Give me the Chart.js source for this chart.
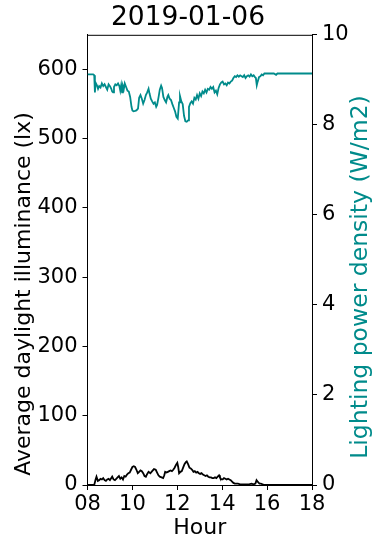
<!DOCTYPE html>
<html>
<head>
<meta charset="utf-8">
<script src="https://cdn.jsdelivr.net/npm/chart.js@4.4.0/dist/chart.umd.min.js"></script>
<style>
html,body{margin:0;padding:0;background:#fff;}
#wrap{width:376px;height:544px;}
</style>
</head>
<body>
<div id="wrap"><canvas id="c" width="376" height="544"></canvas></div>
<script>
const chartTitle = '2019-01-06';
const xTitle = 'Hour';
const leftTitle = 'Average daylight illuminance (lx)';
const rightTitle = 'Lighting power density (W/m2)';
const xTicks = [8, 10, 12, 14, 16, 18];
const leftTicks = [0, 100, 200, 300, 400, 500, 600];
const rightTicks = [0, 2, 4, 6, 8, 10];

const luxHours = [8.00,8.30,8.36,8.40,8.46,8.52,8.58,8.64,8.70,8.76,8.82,8.88,8.94,9.00,9.06,9.10,9.16,9.22,9.28,9.34,9.40,9.46,9.52,9.58,9.64,9.70,9.76,9.82,9.88,9.94,10.00,10.06,10.12,10.18,10.24,10.30,10.36,10.42,10.48,10.54,10.60,10.66,10.72,10.80,10.88,10.96,11.04,11.10,11.16,11.22,11.30,11.37,11.42,11.46,11.52,11.58,11.64,11.70,11.76,11.82,11.88,11.94,12.00,12.04,12.08,12.14,12.20,12.26,12.32,12.38,12.42,12.48,12.54,12.60,12.66,12.72,12.78,12.84,12.90,12.96,13.02,13.08,13.14,13.20,13.26,13.32,13.38,13.44,13.50,13.56,13.62,13.68,13.74,13.80,13.86,13.90,13.96,14.02,14.08,14.14,14.20,14.26,14.32,14.38,14.44,14.50,14.56,14.62,14.70,14.80,14.90,15.00,15.10,15.20,15.30,15.40,15.48,15.53,15.60,15.66,15.72,15.80,15.90,16.00,18.00];
const luxValues = [0,0,8,12,6,7,9,8,10,7,6,8,9,7,10,12,8,7,9,11,13,9,11,8,13,12,15,17,18,22,26,27,26,22,17,19,21,20,17,13,12,16,19,17,20,23,22,18,14,12,11,10,14,19,18,19,20,21,20,22,25,29,32,26,17,19,20,25,30,33,34,30,25,24,22,19,20,18,19,17,16,17,15,14,13,14,12,11,11,10,10,11,10,12,14,11,8,8,10,9,8,9,8,7,5,3,2,2,2,1,1,1,1,1,2,1,2,7,4,2,2,1,0,0,0];

const lpdHours = [8.00,8.25,8.30,8.33,8.36,8.42,8.47,8.52,8.58,8.64,8.70,8.76,8.82,8.88,8.94,9.00,9.06,9.10,9.14,9.18,9.24,9.30,9.36,9.42,9.46,9.50,9.54,9.58,9.62,9.66,9.72,9.78,9.84,9.90,9.96,10.00,10.05,10.12,10.18,10.25,10.30,10.36,10.42,10.48,10.54,10.60,10.66,10.72,10.76,10.82,10.88,10.94,11.00,11.06,11.10,11.16,11.22,11.28,11.32,11.38,11.44,11.50,11.56,11.60,11.66,11.72,11.78,11.84,11.90,11.96,12.02,12.08,12.12,12.18,12.24,12.30,12.36,12.42,12.48,12.52,12.58,12.64,12.70,12.76,12.82,12.88,12.94,13.00,13.06,13.12,13.18,13.24,13.30,13.36,13.42,13.48,13.54,13.60,13.66,13.72,13.78,13.84,13.90,13.96,14.02,14.08,14.14,14.20,14.26,14.32,14.38,14.44,14.50,14.56,14.62,14.68,14.74,14.80,14.86,14.92,14.98,15.04,15.10,15.16,15.22,15.28,15.34,15.40,15.46,15.50,15.54,15.58,15.64,15.70,15.76,15.82,15.88,16.00,16.30,16.40,16.46,18.00];
const lpdValues = [9.12,9.12,9.10,8.72,8.94,8.88,8.80,8.86,8.83,8.92,8.86,8.90,8.84,8.78,8.90,8.86,8.80,8.74,8.72,8.84,8.90,8.88,8.92,8.86,8.76,8.88,8.72,8.86,8.80,8.92,8.84,8.76,8.74,8.62,8.40,8.32,8.30,8.31,8.32,8.36,8.60,8.66,8.58,8.47,8.55,8.66,8.72,8.80,8.70,8.58,8.52,8.47,8.50,8.40,8.44,8.60,8.78,8.87,8.82,8.62,8.55,8.50,8.62,8.66,8.58,8.55,8.46,8.38,8.30,8.18,8.14,8.50,8.64,8.52,8.46,8.20,8.08,8.07,8.10,8.40,8.48,8.52,8.47,8.60,8.56,8.66,8.58,8.70,8.64,8.74,8.70,8.78,8.72,8.80,8.78,8.84,8.80,8.84,8.72,8.76,8.68,8.82,8.90,8.94,8.96,8.90,8.92,8.88,8.94,8.92,8.96,8.98,9.04,9.08,9.06,9.10,9.07,9.10,9.08,9.06,9.10,9.04,9.08,9.10,9.07,9.12,9.08,9.10,9.06,9.04,8.88,8.96,9.06,9.08,9.12,9.10,9.14,9.14,9.14,9.11,9.14,9.14];

const TEAL = '#008b8b';
const FONT = 'DejaVu Sans';

const luxData = luxHours.map((h, i) => ({x: h, y: luxValues[i]}));
const lpdData = lpdHours.map((h, i) => ({x: h, y: lpdValues[i]}));

const framePlugin = {
  id: 'frame',
  afterDraw(chart) {
    const {ctx, chartArea: a} = chart;
    ctx.save();
    ctx.strokeStyle = '#000';
    ctx.lineWidth = 1;
    ctx.beginPath();
    ctx.moveTo(a.left, a.top + 0.5);
    ctx.lineTo(a.right, a.top + 0.5);
    ctx.stroke();
    ctx.textAlign = 'center';
    ctx.textBaseline = 'middle';
    ctx.save();
    ctx.font = '22px "' + FONT + '"';
    ctx.translate(24, 294);
    ctx.rotate(-Math.PI / 2);
    ctx.fillStyle = '#000';
    ctx.fillText(leftTitle, 0, 0);
    ctx.restore();
    ctx.font = '23.5px "' + FONT + '"';
    ctx.translate(361, 277);
    ctx.rotate(-Math.PI / 2);
    ctx.fillStyle = TEAL;
    ctx.fillText(rightTitle, 0, 0);
    ctx.restore();
  }
};

function tickList(vals) {
  return function(scale) { scale.ticks = vals.map(v => ({value: v})); };
}

new Chart(document.getElementById('c'), {
  type: 'line',
  data: {
    datasets: [
      {data: luxData, yAxisID: 'y', borderColor: '#000', borderWidth: 1.8, pointRadius: 0, tension: 0, fill: false},
      {data: lpdData, yAxisID: 'y1', borderColor: TEAL, borderWidth: 1.8, pointRadius: 0, tension: 0, fill: false}
    ]
  },
  options: {
    responsive: false,
    animation: false,
    devicePixelRatio: 1,
    layout: {padding: 0},
    plugins: {
      legend: {display: false},
      tooltip: {enabled: false},
      title: {display: true, text: chartTitle, color: '#000', font: {family: FONT, size: 26.5, weight: 'normal'}, padding: {top: 2, bottom: 1}}
    },
    scales: {
      x: {
        type: 'linear', min: 8, max: 18,
        afterBuildTicks: tickList(xTicks),
        ticks: {color: '#000', font: {family: FONT, size: 21}, padding: 2, maxRotation: 0, autoSkip: false,
          callback: v => String(v).padStart(2, '0')},
        grid: {drawOnChartArea: false, color: '#000', tickLength: 5},
        border: {color: '#000', width: 1},
        title: {display: true, text: xTitle, color: '#000', font: {family: FONT, size: 22}, padding: {top: 0, bottom: 3}},
        afterFit: s => { s.height = 59; }
      },
      y: {
        position: 'left', min: 0, max: 650,
        afterBuildTicks: tickList(leftTicks),
        ticks: {color: '#000', font: {family: FONT, size: 21}, padding: 5},
        grid: {drawOnChartArea: false, color: '#000', tickLength: 5},
        border: {color: '#000', width: 1},
        afterFit: s => { s.width = 87.5; }
      },
      y1: {
        position: 'right', min: 0, max: 10,
        afterBuildTicks: tickList(rightTicks),
        ticks: {color: '#000', font: {family: FONT, size: 21}, padding: 5},
        grid: {drawOnChartArea: false, color: '#000', tickLength: 5},
        border: {color: '#000', width: 1},
        afterFit: s => { s.width = 64; }
      }
    }
  },
  plugins: [framePlugin]
});
</script>
</body>
</html>
